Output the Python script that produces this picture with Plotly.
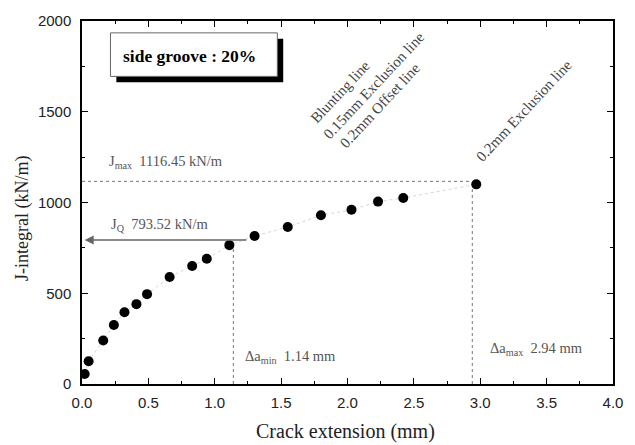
import plotly.graph_objects as go

crack_ext = [0.02, 0.05, 0.16, 0.24, 0.32, 0.41, 0.49, 0.66, 0.83, 0.94, 1.11, 1.30, 1.55, 1.80, 2.03, 2.23, 2.42, 2.97]
j_integral = [55, 125, 240, 325, 395, 440, 495, 590, 650, 690, 765, 815, 865, 930, 960, 1005, 1025, 1100]

j_q = 793.52
j_max = 1116.45
da_min = 1.14
da_max = 2.94

x_ticks = [0.0, 0.5, 1.0, 1.5, 2.0, 2.5, 3.0, 3.5, 4.0]
x_tick_text = ["0.0", "0.5", "1.0", "1.5", "2.0", "2.5", "3.0", "3.5", "4.0"]
y_ticks = [0, 500, 1000, 1500, 2000]

serif = "Liberation Serif, Times New Roman, serif"
sans = "Liberation Sans, Arial, sans-serif"

fig = go.Figure()

# faint fit line through points
fig.add_trace(go.Scatter(x=crack_ext, y=j_integral, mode="lines",
                         line=dict(color="#d6d6d6", width=1, dash="dot"),
                         hoverinfo="skip", showlegend=False))
# Jmax horizontal dotted
fig.add_trace(go.Scatter(x=[0, da_max], y=[j_max, j_max], mode="lines",
                         line=dict(color="#777", width=1, dash="dot"), showlegend=False))
# da_max vertical dotted
fig.add_trace(go.Scatter(x=[da_max, da_max], y=[0, j_max], mode="lines",
                         line=dict(color="#777", width=1, dash="dot"), showlegend=False))
# da_min vertical dotted
fig.add_trace(go.Scatter(x=[da_min, da_min], y=[0, j_q], mode="lines",
                         line=dict(color="#777", width=1, dash="dot"), showlegend=False))
# data points
fig.add_trace(go.Scatter(x=crack_ext, y=j_integral, mode="markers",
                         marker=dict(color="black", size=10), showlegend=False))

# JQ arrow
fig.add_annotation(x=0.02, y=j_q, ax=1.25, ay=j_q, xref="x", yref="y", axref="x", ayref="y",
                   text="", showarrow=True, arrowhead=2, arrowsize=1.2, arrowwidth=1.5,
                   arrowcolor="#666")

txt_color = "#555"
fig.add_annotation(x=0.19, y=1160, xref="x", yref="y", xanchor="left", yanchor="bottom",
                   text="J<sub>max</sub>  1116.45 kN/m", showarrow=False,
                   font=dict(family=serif, size=14.5, color=txt_color))
fig.add_annotation(x=0.2, y=815, xref="x", yref="y", xanchor="left", yanchor="bottom",
                   text="J<sub>Q</sub>  793.52 kN/m", showarrow=False,
                   font=dict(family=serif, size=14.5, color=txt_color))
fig.add_annotation(x=1.21, y=150, xref="x", yref="y", xanchor="left", yanchor="middle",
                   text="Δa<sub>min</sub>  1.14 mm", showarrow=False,
                   font=dict(family=serif, size=14.5, color=txt_color))
fig.add_annotation(x=3.06, y=195, xref="x", yref="y", xanchor="left", yanchor="middle",
                   text="Δa<sub>max</sub>  2.94 mm", showarrow=False,
                   font=dict(family=serif, size=14.5, color=txt_color))

# rotated line labels (pixel positions converted to data)
def px2x(px):
    return (px - 82) / 541 * 4.0

def px2y(py):
    return (384 - py) / 367 * 2000

rot_labels = [
    ("Blunting line", 345, 89),
    ("0.15mm Exclusion line", 380, 82),
    ("0.2mm Offset line", 386, 102),
    ("0.2mm Exclusion line", 532, 108),
]
for t, px, py in rot_labels:
    fig.add_annotation(x=px2x(px), y=px2y(py), xref="x", yref="y", text=t, showarrow=False,
                       xanchor="center", yanchor="middle",
                       textangle=-47, font=dict(family=serif, size=15, color="#444"))

# side groove box with shadow
fig.add_shape(type="rect", xref="paper", yref="paper",
              x0=(117 - 82) / 541, x1=(287 - 82) / 541,
              y0=(384 - 79) / 367, y1=(384 - 35) / 367,
              fillcolor="black", line=dict(width=0), layer="above")
fig.add_shape(type="rect", xref="paper", yref="paper",
              x0=(111 - 82) / 541, x1=(281 - 82) / 541,
              y0=(384 - 73) / 367, y1=(384 - 29) / 367,
              fillcolor="white", line=dict(color="#666", width=1), layer="above")
fig.add_annotation(x=(192 - 82) / 541, y=(384 - 52) / 367, xref="paper", yref="paper",
                   xanchor="center", yanchor="middle",
                   text="<b>side groove : 20%</b>", showarrow=False,
                   font=dict(family=serif, size=17.5, color="black"))

# axis titles
fig.add_annotation(x=(350 - 82) / 541, y=(384 - 432) / 367, xref="paper", yref="paper",
                   xanchor="center", yanchor="middle", showarrow=False,
                   text="Crack extension (mm)", font=dict(family=serif, size=20, color="#222"))
fig.add_annotation(x=(22 - 82) / 541, y=(384 - 217) / 367, xref="paper", yref="paper",
                   xanchor="center", yanchor="middle", showarrow=False, textangle=-90,
                   text="J-integral (kN/m)", font=dict(family=serif, size=18, color="#222"))

fig.update_layout(
    width=635, height=445,
    margin=dict(l=82, r=12, t=17, b=61),
    plot_bgcolor="white", paper_bgcolor="white",
    showlegend=False,
)
fig.update_xaxes(range=[0, 4.0], tickvals=x_ticks, ticktext=x_tick_text,
                 showgrid=False, zeroline=False,
                 showline=True, linecolor="black", linewidth=1.5, mirror="ticks",
                 ticks="inside", ticklen=6, tickcolor="black",
                 minor=dict(dtick=0.25, ticks="inside", ticklen=3, tickcolor="black"),
                 tickfont=dict(family=sans, size=15, color="#222"), ticklabelstandoff=4)
fig.update_yaxes(range=[0, 2000], tickvals=y_ticks,
                 showgrid=False, zeroline=False,
                 showline=True, linecolor="black", linewidth=1.5, mirror="ticks",
                 ticks="inside", ticklen=6, tickcolor="black",
                 minor=dict(dtick=250, ticks="inside", ticklen=3, tickcolor="black"),
                 tickfont=dict(family=sans, size=15, color="#222"), ticklabelstandoff=6)

fig.write_html("out.html")
